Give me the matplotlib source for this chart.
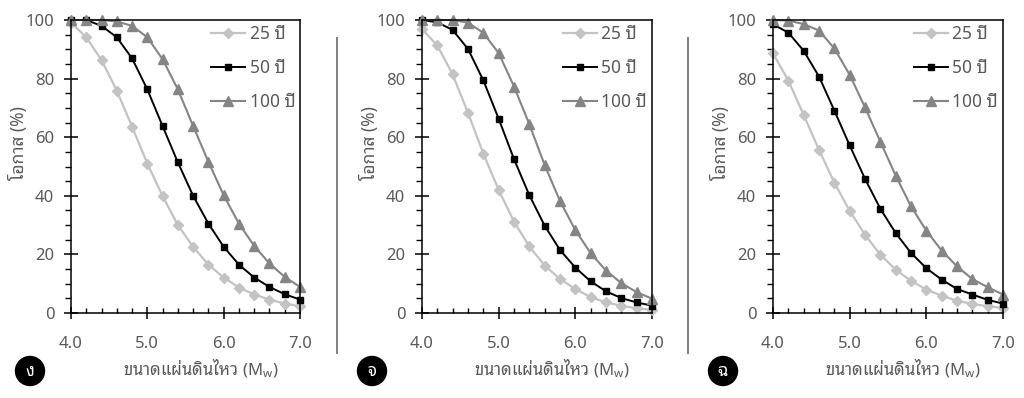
import matplotlib
matplotlib.use('Agg')
import matplotlib.pyplot as plt
from matplotlib.lines import Line2D
from matplotlib.patches import Ellipse
from matplotlib.ticker import MultipleLocator, FormatStrFormatter

plt.rcParams['font.family'] = ['Noto Sans', 'Noto Sans Thai Looped', 'DejaVu Sans']
plt.rcParams['mathtext.default'] = 'regular'

magnitude = [4.0, 4.2, 4.4, 4.6, 4.8, 5.0, 5.2, 5.4, 5.6, 5.8,
             6.0, 6.2, 6.4, 6.6, 6.8, 7.0]

series_names = ['25 ปี', '50 ปี', '100 ปี']
panel_tags = ['ง', 'จ', 'ฉ']

# panel ง
ngo_25 = [99.1, 94.1, 86.3, 75.9, 63.6, 51.0, 39.9, 30.0, 22.6, 16.5,
          12.1, 8.7, 6.3, 4.6, 3.2, 2.3]
ngo_50 = [100, 100, 98.0, 94.1, 86.9, 76.3, 63.8, 51.4, 40.0, 30.5,
          22.6, 16.5, 12.1, 8.9, 6.4, 4.6]
ngo_100 = [100, 100, 100, 99.5, 98.0, 94.1, 86.6, 76.3, 63.8, 51.6,
           40.2, 30.5, 22.9, 16.9, 12.3, 8.9]

# panel จ
cho_25 = [96.9, 91.3, 81.4, 68.3, 54.4, 42.0, 31.2, 22.7, 16.2, 11.6,
          8.2, 5.4, 3.6, 2.5, 1.6, 1.1]
cho_50 = [100, 99.2, 96.6, 90.1, 79.4, 66.3, 52.5, 40.2, 29.8, 21.5,
          15.5, 10.8, 7.4, 5.1, 3.6, 2.5]
cho_100 = [100, 100, 100, 99.1, 95.6, 88.7, 77.3, 64.4, 50.5, 38.2,
           28.3, 20.4, 14.5, 10.2, 7.1, 4.9]

# panel ฉ
ching_25 = [88.6, 79.3, 67.6, 55.7, 44.5, 34.9, 26.7, 19.9, 14.8, 11.0,
            8.0, 5.9, 4.2, 3.1, 2.3, 1.7]
ching_50 = [98.5, 95.7, 89.5, 80.7, 69.1, 57.2, 45.8, 35.6, 27.3, 20.5,
            15.3, 11.4, 8.2, 6.3, 4.5, 3.2]
ching_100 = [100, 99.8, 98.6, 96.4, 90.3, 81.3, 70.2, 58.5, 46.9, 36.4,
             28.1, 21.3, 15.9, 11.6, 8.8, 6.3]

panels = [
    [ngo_25, ngo_50, ngo_100],
    [cho_25, cho_50, cho_100],
    [ching_25, ching_50, ching_100],
]

styles = [
    dict(color='#c3c3c3', marker='D', markersize=4.8, lw=1.6),
    dict(color='#000000', marker='s', markersize=5.0, lw=1.4),
    dict(color='#858585', marker='^', markersize=6.5, lw=1.5),
]

text_grey = '#595959'
W, H = 1024, 398
axes_px = [(71, 300), (422, 652), (773, 1003)]
top_px, bottom_px = 20, 313
tag_px = [(30, 371), (372, 371), (723, 371)]
divider_px = [337, 688]

fig = plt.figure(figsize=(W / 100, H / 100), dpi=100)

for k, (left, right) in enumerate(axes_px):
    ax = fig.add_axes([left / W, 1 - bottom_px / H,
                       (right - left) / W, (bottom_px - top_px) / H])
    for values, name, st in zip(panels[k], series_names, styles):
        ax.plot(
            magnitude, values,
            color=st['color'],
            lw=st['lw'],
            marker=st['marker'],
            markersize=st['markersize'],
            markerfacecolor=st['color'],
            markeredgecolor=st['color'],
            clip_on=False,
            label=name)
    ax.set_xlim(4.0, 7.0)
    ax.set_ylim(0, 100)
    ax.xaxis.set_major_locator(MultipleLocator(1.0))
    ax.xaxis.set_minor_locator(MultipleLocator(0.2))
    ax.xaxis.set_major_formatter(FormatStrFormatter('%.1f'))
    ax.yaxis.set_major_locator(MultipleLocator(20))
    ax.yaxis.set_minor_locator(MultipleLocator(5))
    for sp in ax.spines.values():
        sp.set_linewidth(1.1)
        sp.set_color('black')
    ax.tick_params(
        axis='x', which='major', direction='inout',
        length=9, width=1.1, pad=12,
        labelsize=12, labelcolor=text_grey)
    ax.tick_params(
        axis='x', which='minor', direction='in',
        length=3.5, width=1.0)
    ax.tick_params(
        axis='y', which='major', direction='inout',
        length=10, width=1.1, pad=7,
        labelsize=12, labelcolor=text_grey)
    ax.tick_params(
        axis='y', which='minor', direction='out',
        length=4, width=1.0)
    ax.text(
        0.565, -0.19,
        'ขนาดแผ่นดินไหว (M$_w$)',
        transform=ax.transAxes,
        ha='center', va='center',
        fontsize=12,
        family=['Noto Sans Thai Looped', 'Noto Sans'],
        color=text_grey)
    ax.text(
        -0.228, 0.58,
        'โอกาส (%)',
        transform=ax.transAxes,
        ha='center', va='center',
        rotation=90,
        fontsize=12.5,
        color=text_grey)
    leg = ax.legend(
        loc='upper left',
        bbox_to_anchor=(0.545, 1.035),
        frameon=False,
        numpoints=1,
        handlelength=1.95,
        handletextpad=0.25,
        labelspacing=0.9,
        prop={'size': 12.5})
    for t in leg.get_texts():
        t.set_color(text_grey)

    tx, ty = tag_px[k]
    fig.add_artist(Ellipse((tx / W, 1 - ty / H), 29 / W, 29 / H,
                           transform=fig.transFigure,
                           facecolor='black', edgecolor='black'))
    fig.text(tx / W, 1 - (ty + 1) / H, panel_tags[k],
             ha='center', va='center', color='white',
             fontsize=12, fontweight='bold')

for xd in divider_px:
    fig.add_artist(Line2D([xd / W, xd / W], [1 - 38 / H, 1 - 353 / H],
                          transform=fig.transFigure,
                          color='#7f7f7f', lw=1.4))

fig.savefig('out.png', dpi=100)
